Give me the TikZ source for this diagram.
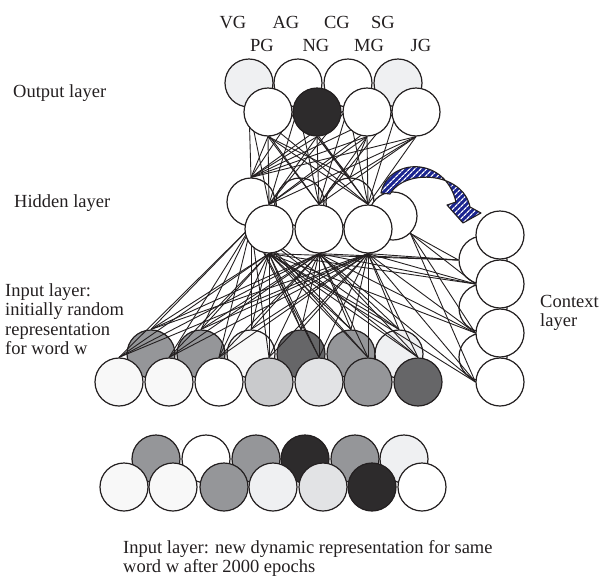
\documentclass[tikz,border=0pt]{standalone}
\usepackage{fontspec}
\setmainfont{Liberation Serif}
\usetikzlibrary{patterns.meta}
\definecolor{ink}{HTML}{231F20}
\definecolor{gA}{HTML}{959699}
\definecolor{gD}{HTML}{666668}
\definecolor{gK}{HTML}{2D2B2C}
\definecolor{gL}{HTML}{EFF0F2}
\definecolor{gW}{HTML}{F8F8F8}
\definecolor{gM}{HTML}{C9CACC}
\definecolor{gN}{HTML}{E2E3E5}
\definecolor{navy}{HTML}{1B2590}
\pgfdeclarelayer{back}
\pgfdeclarelayer{mid}
\pgfsetlayers{back,mid,main}
\begin{document}
\begin{tikzpicture}[x=1pt,y=-1pt,
  unit/.style={circle,draw=ink,line width=1.2pt,minimum size=48pt,inner sep=0pt,fill=#1},
  unit/.default=white,
  link/.style={draw=ink,line width=0.9pt},
  lbl/.style={inner sep=0pt,text=ink,font=\fontsize{18.5}{19.5}\selectfont},
]
\useasboundingbox (0,0) rectangle (614,579);

% ---------- back rows ----------
\begin{pgfonlayer}{back}
\foreach \x/\c [count=\i] in {249/gL,298/white,348/white,398/gL}
  \node[unit=\c] (ob\i) at (\x,83) {};
\foreach \x/\yy [count=\i] in {251/202,300/202,350/202,393/216}
  \node[unit] (hb\i) at (\x,\yy) {};
\foreach \yy [count=\i] in {260,308,357}
  \node[unit] (cb\i) at (483,\yy) {};
\foreach \x/\c [count=\i] in {151/gA,201/gA,251/gW,301/gD,351/gA,399/gL}
  \node[unit=\c] (ib\i) at (\x,354) {};
\foreach \x/\c [count=\i] in {156/gA,206/white,256/gA,305/gK,355/gA,404/gL}
  \node[unit=\c] (bb\i) at (\x,459) {};
\end{pgfonlayer}

% ---------- front rows ----------
\foreach \x/\c [count=\i] in {268/white,317/gK,367/white,416/white}
  \node[unit=\c] (of\i) at (\x,112) {};
\foreach \x [count=\i] in {269,319,368}
  \node[unit] (hf\i) at (\x,229) {};
\foreach \yy [count=\i] in {235,284,333,382}
  \node[unit] (cf\i) at (500,\yy) {};
\foreach \x/\c [count=\i] in {119/gW,169/gW,219/white,269/gM,319/gN,368/gA,418/gD}
  \node[unit=\c] (if\i) at (\x,382) {};
\foreach \x/\c [count=\i] in {124/gW,173/gW,224/gA,273/gL,323/gN,372/gK,422/white}
  \node[unit=\c] (bf\i) at (\x,487) {};

% ---------- connections ----------
\begin{pgfonlayer}{mid}
\foreach \s in {ob1,ob2,ob3,ob4,of1,of2,of3,of4}
  \foreach \t in {hb1,hf1,hf2,hf3}
    \draw[link] (\s.south) -- (\t.north);
\foreach \s in {of1,of2,of3,of4}
  \draw[link] (\s.south) -- (hb3.north);
\foreach \s in {hb1,hf1,hf2,hf3}{
  \foreach \t in {ib1,ib2,ib3,ib4,ib5,ib6,if1,if2,if3,if4,if5,if6,if7}
    \draw[link] (\s.south) -- (\t.north);
}
\foreach \s in {hf1.south,hf2.south,hf3.south,hb4.south east}
  \foreach \t in {cb1,cf2,cf3,cf4}
    \draw[link] (\s) -- (\t.west);
\end{pgfonlayer}

% ---------- recurrent arrow ----------
\def\arrowpath{(381,193) .. controls (388,158) and (445,155) .. (456,202)
  -- (447,205) -- (463,223) -- (481,213) -- (470,207)
  .. controls (463,172) and (405,168) .. (390,194) -- cycle}
\fill[navy] \arrowpath;
\fill[pattern={Lines[angle=45,distance=4pt,line width=1.3pt]},pattern color=white] \arrowpath;
\draw[ink,line width=1.1pt,line join=round] \arrowpath;

% ---------- labels ----------
\foreach \x/\t in {233/VG,286/AG,337/CG,383/SG}
  \node[lbl,anchor=base] at (\x,28) {\t};
\foreach \x/\t in {262/PG,316/NG,369/MG,421/JG}
  \node[lbl,anchor=base] at (\x,51) {\t};
\node[lbl,anchor=base west] (lo) at (13,97) {Output layer};
\node[lbl,anchor=base west] (lh) at (14,207) {Hidden layer};
\node[lbl,anchor=north west,align=left] (li) at (5,283) {Input layer:\\initially random\\representation\\for word w};
\node[lbl,anchor=north west,align=left] (lc) at (540,295) {Context\\layer};
\node[lbl,anchor=north west,align=left] (lb) at (123,540) {Input layer: new dynamic representation for same\\word w after 2000 epochs};
\end{tikzpicture}
\end{document}
